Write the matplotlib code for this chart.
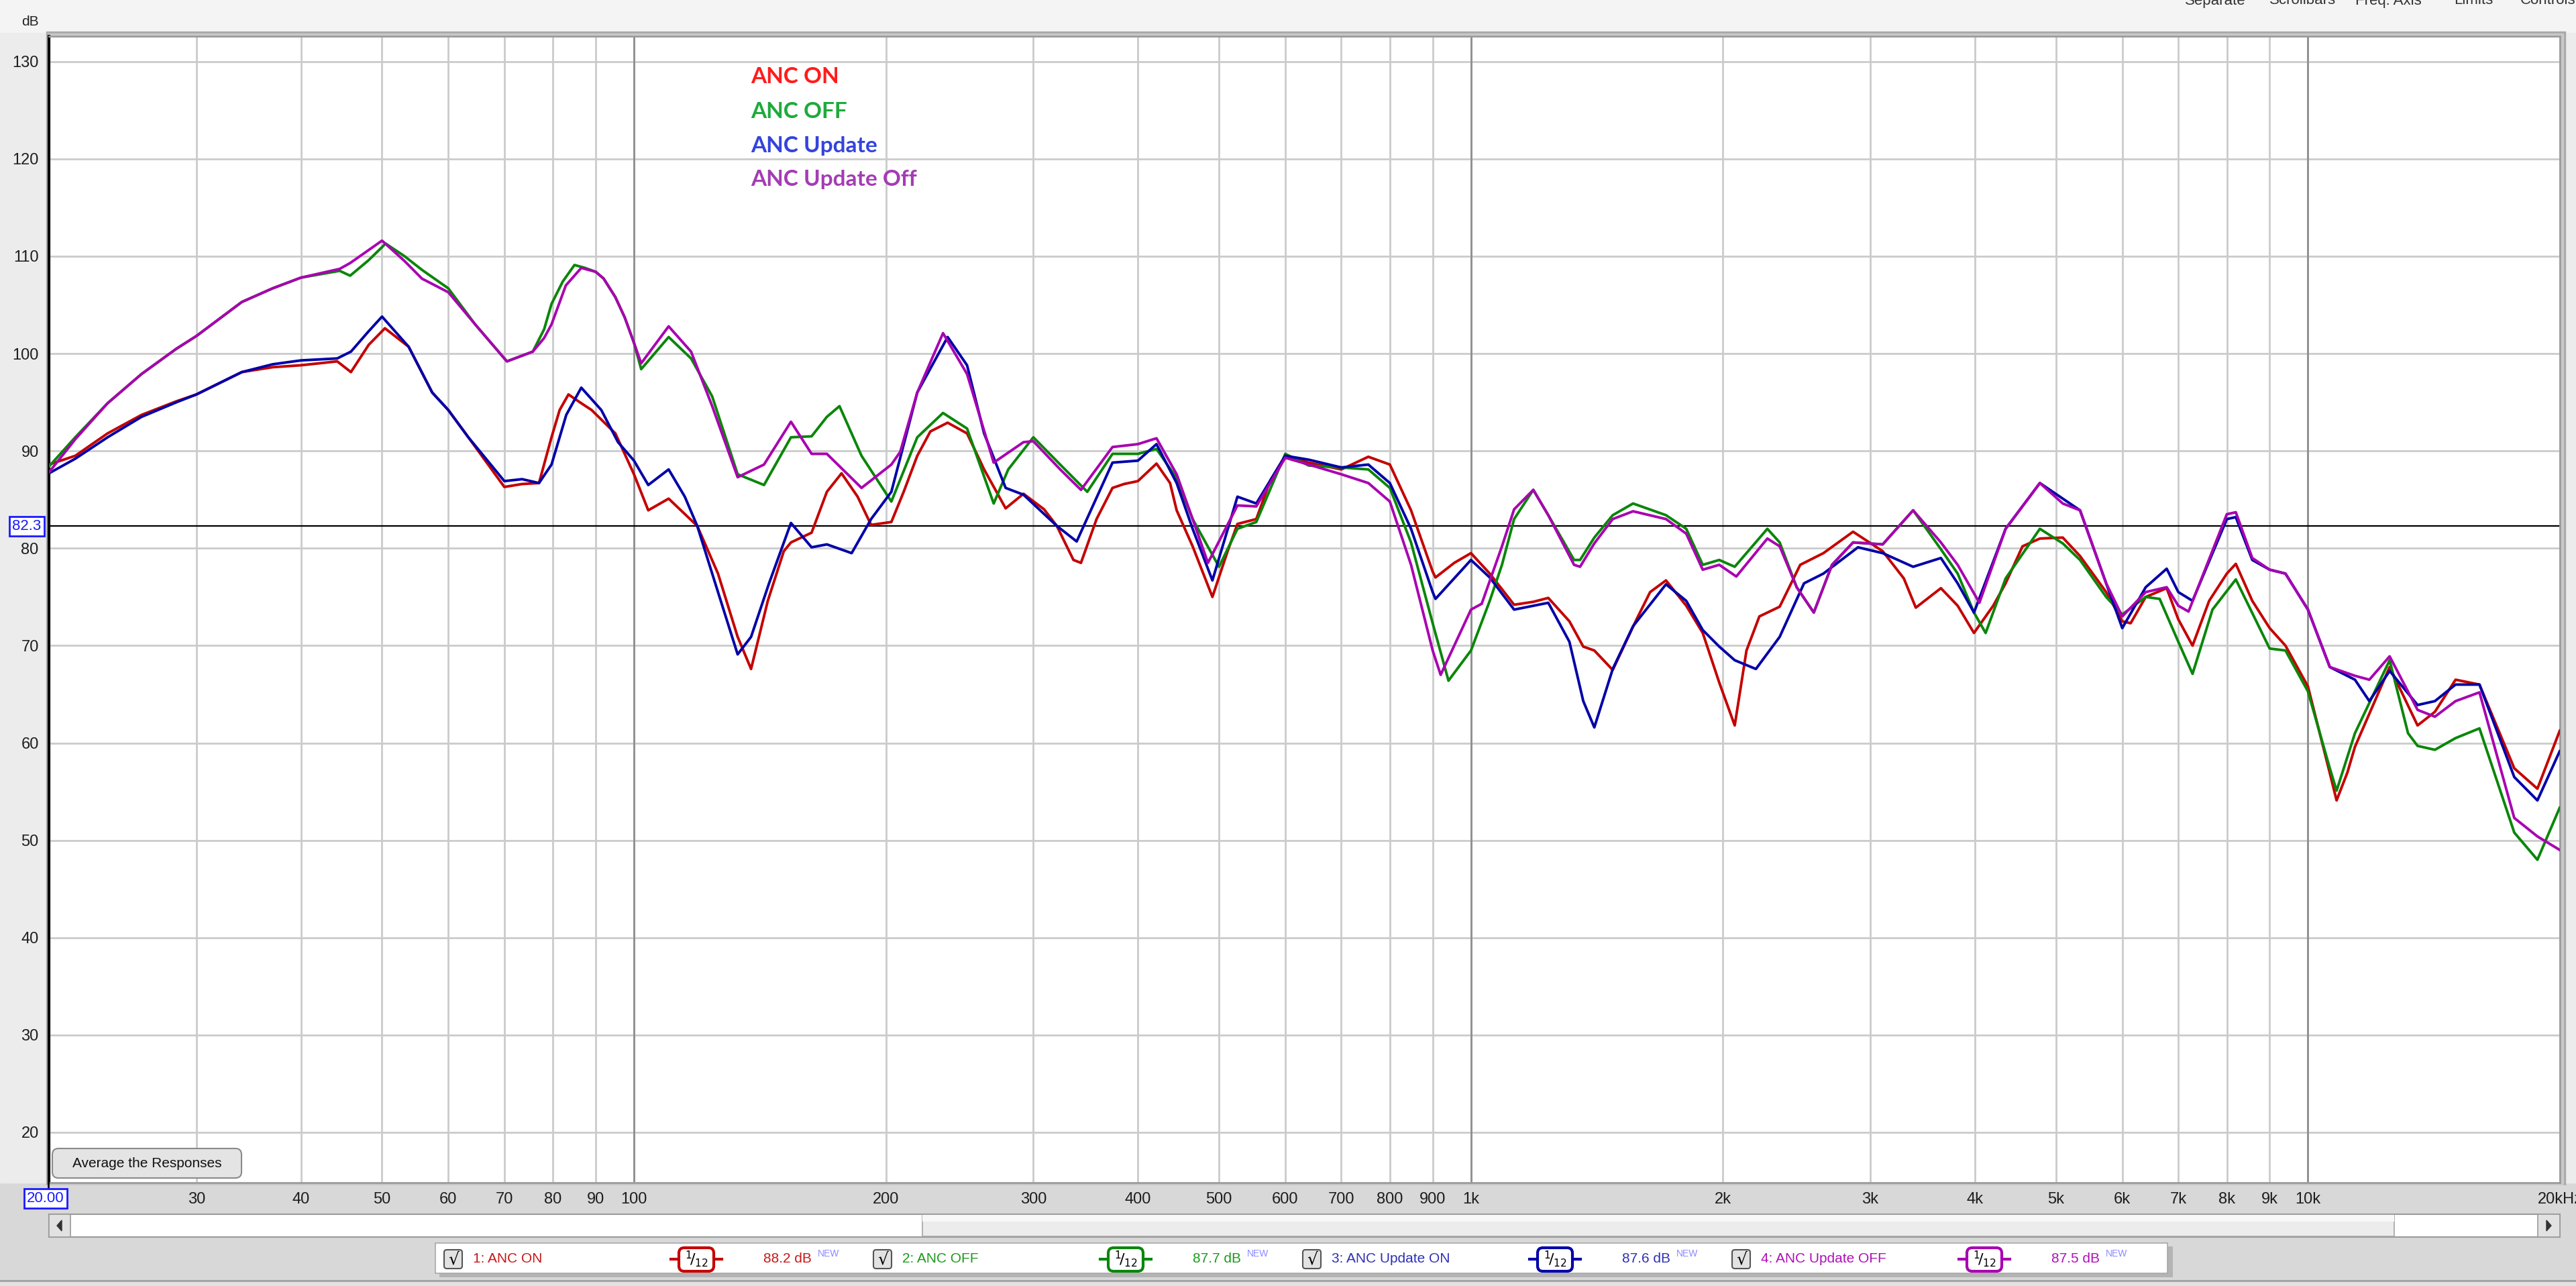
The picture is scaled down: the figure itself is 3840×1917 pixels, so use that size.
import matplotlib.pyplot as plt
from matplotlib.patches import Rectangle, FancyBboxPatch, Polygon
from matplotlib.ticker import NullLocator

plt.rcParams['font.family'] = ['Liberation Sans Narrow', 'Liberation Sans', 'DejaVu Sans']

# (frequency Hz, level dB), 1/12 octave smoothed
anc_on = [(20, 88.6), (21.5, 89.5), (23.5, 91.8), (25.8, 93.7), (28.4, 95.1), (30, 95.8), (34, 98.1),
          (37, 98.6), (40, 98.8), (44.2, 99.2), (45.9, 98.1),
          (48.2, 100.9), (50.4, 102.6), (53.8, 100.7), (57.4, 96.0), (60, 94.2), (63.4, 91.4),
          (70, 86.3), (73.5, 86.6), (77, 86.7), (79.7, 91.4), (81.5, 94.2), (83.5, 95.8), (86.5, 94.9),
          (89, 94.2), (95, 91.8), (100, 87.6), (104, 83.9), (110, 85.1), (119, 82.3), (126, 77.4),
          (133, 70.9), (138, 67.6), (144.5, 74.6), (151, 79.7), (154, 80.6), (163, 81.6), (170, 85.8),
          (177, 87.7), (185, 85.3), (192, 82.4), (203, 82.7), (210, 85.8), (218, 89.5), (226, 92.0),
          (237, 92.9), (250, 91.8), (262, 88.1), (278, 84.1), (292, 85.6), (309, 84.0), (320, 82.3),
          (335, 78.8), (342, 78.5), (357, 83.0), (373, 86.2), (385, 86.6), (400, 86.9), (421, 88.7),
          (437, 86.7), (445, 83.9), (465, 80.2), (491, 75.0), (512, 79.7), (526, 82.5), (554, 83.0),
          (576, 87.0), (600, 89.5), (640, 88.8), (700, 88.1), (754, 89.4), (800, 88.6), (848, 83.9),
          (900, 77.6), (907, 77.0), (955, 78.5), (1000, 79.5), (1053, 77.4), (1126, 74.2),
          (1187, 74.5), (1237, 74.9), (1311, 72.5), (1362, 69.9), (1404, 69.5), (1477, 67.5),
          (1577, 72.7), (1637, 75.5), (1710, 76.7), (1808, 74.1), (1892, 71.3), (1980, 66.2),
          (2066, 61.8), (2134, 69.5), (2211, 73.0), (2338, 74.0), (2474, 78.3), (2637, 79.5),
          (2861, 81.7), (3104, 79.7), (3290, 76.9), (3400, 73.9), (3643, 75.9), (3815, 74.1),
          (3990, 71.3), (4207, 74.1), (4353, 76.4), (4560, 80.2), (4783, 81.0), (5094, 81.1),
          (5342, 79.2), (5740, 75.5), (6000, 72.5), (6140, 72.3), (6400, 75.0), (6780, 75.9),
          (7000, 72.7), (7280, 70.0), (7620, 74.6), (8000, 77.4), (8200, 78.4), (8580, 74.6),
          (9000, 71.8), (9400, 70.0), (10000, 65.8), (10620, 56.9), (10820, 54.1), (11150, 57.0),
          (11380, 59.6), (12520, 67.8), (13520, 61.8), (14180, 63.2), (15010, 66.5), (16030, 66.0),
          (17640, 57.4), (18800, 55.3), (20000, 61.3)]

anc_off = [(20, 88.4), (21.5, 91.4), (23.5, 94.9), (25.8, 97.9), (28.4, 100.5), (30, 101.8), (34, 105.3),
           (37, 106.7), (40, 107.8), (44.5, 108.5), (45.8, 108.0), (48.2, 109.6), (50.5, 111.3),
           (53.2, 110.0), (55.8, 108.6), (60, 106.7), (64.6, 103.0), (70, 99.5), (70.5, 99.2),
           (75.7, 100.2), (78.1, 102.5), (79.7, 105.1), (82.2, 107.4), (84.9, 109.1), (87.4, 108.8),
           (90, 108.4), (92, 107.7), (95, 105.8), (97.5, 103.7), (100, 101.1), (102, 98.4), (110, 101.7),
           (117, 99.5), (124, 95.6), (133, 87.6), (143, 86.5), (154, 91.4), (163, 91.5), (170, 93.5),
           (176, 94.6), (187, 89.5), (203, 84.8), (218, 91.4), (234, 93.9), (250, 92.3), (269, 84.6),
           (280, 88.1), (300, 91.4), (323, 88.6), (348, 85.8), (373, 89.7), (400, 89.7), (421, 90.2),
           (445, 87.2), (465, 83.0), (500, 78.1), (526, 82.0), (554, 82.7), (600, 89.7), (640, 88.5),
           (700, 88.3), (754, 88.1), (800, 86.2), (848, 80.6), (900, 72.3), (940, 66.4), (1000, 69.5),
           (1053, 74.6), (1089, 78.3), (1126, 83.0), (1187, 86.0), (1237, 83.4), (1328, 78.8),
           (1350, 78.8), (1404, 81.1), (1477, 83.4), (1562, 84.6), (1710, 83.4), (1808, 82.0),
           (1892, 78.3), (1980, 78.8), (2066, 78.1), (2260, 82.0), (2338, 80.6), (2450, 76.0),
           (2568, 73.4), (2700, 78.3), (2861, 80.6), (3104, 80.4), (3375, 83.9), (3643, 79.9),
           (3815, 77.4), (3990, 73.4), (4120, 71.3), (4353, 76.9), (4783, 82.0), (5094, 80.5),
           (5342, 78.8), (5740, 75.0), (6000, 73.2), (6400, 75.0), (6650, 74.8), (7000, 70.4),
           (7280, 67.1), (7690, 73.7), (8200, 76.8), (9000, 69.7), (9400, 69.5), (10000, 65.3),
           (10620, 57.4), (10820, 55.1), (11380, 61.0), (12520, 68.5), (13170, 61.0), (13520, 59.7),
           (14180, 59.3), (15010, 60.5), (16030, 61.5), (17640, 50.8), (18800, 48.0), (20000, 53.4)]

update_on = [(20, 87.7), (21.5, 89.2), (23.5, 91.4), (25.8, 93.5), (28.4, 95.0), (30, 95.8), (34, 98.1),
             (37, 98.9), (40, 99.3), (44.2, 99.5), (45.9, 100.2), (48.2, 102.3), (50, 103.8),
             (53.8, 100.7), (57.4, 96.0), (60, 94.2), (63.4, 91.4), (70, 86.9), (73.5, 87.1), (77, 86.7),
             (79.7, 88.6), (83, 93.7), (86.5, 96.5), (91.4, 94.2), (95.7, 90.9), (100, 89.0), (104, 86.5),
             (110, 88.1), (115, 85.3), (119, 82.3), (126, 75.5), (133, 69.1), (138, 70.9), (145, 76.4),
             (154, 82.6), (163, 80.1), (170, 80.4), (182, 79.5), (192, 83.0), (203, 85.8), (218, 96.0),
             (237, 101.7), (250, 98.8), (262, 91.8), (278, 86.2), (292, 85.5), (320, 82.3), (338, 80.7),
             (373, 88.8), (400, 89.0), (421, 90.7), (445, 86.7), (465, 82.0), (491, 76.7), (526, 85.3),
             (554, 84.6), (600, 89.5), (640, 89.1), (700, 88.3), (754, 88.6), (800, 86.7), (848, 82.0),
             (900, 75.5), (907, 74.8), (1000, 78.8), (1053, 77.0), (1126, 73.7), (1237, 74.4),
             (1311, 70.4), (1362, 64.3), (1404, 61.6), (1477, 67.6), (1562, 72.0), (1710, 76.3),
             (1808, 74.6), (1892, 71.6), (1980, 69.9), (2066, 68.5), (2190, 67.6), (2338, 70.9),
             (2500, 76.4), (2637, 77.4), (2900, 80.1), (3104, 79.5), (3375, 78.1), (3643, 79.0),
             (3815, 76.4), (3990, 73.4), (4353, 82.0), (4783, 86.7), (5094, 85.1), (5342, 83.9),
             (5740, 76.4), (6000, 71.8), (6400, 76.0), (6780, 77.9), (7000, 75.5), (7280, 74.6),
             (8000, 83.0), (8200, 83.2), (8580, 78.8), (9000, 77.8), (9400, 77.4), (10000, 73.7),
             (10620, 67.8), (11380, 66.5), (11840, 64.3), (12520, 67.4), (13520, 63.9), (14180, 64.3),
             (15010, 66.0), (16030, 66.0), (17640, 56.5), (18800, 54.1), (20000, 59.2)]

update_off = [(20, 87.8), (21.5, 91.2), (23.5, 94.9), (25.8, 97.9), (28.4, 100.5), (30, 101.8), (34, 105.3),
              (37, 106.7), (40, 107.8), (44.5, 108.7), (45.8, 109.3), (50, 111.6), (53.2, 109.5),
              (55.8, 107.7), (60, 106.3), (64.6, 103.0), (70, 99.5), (70.5, 99.2), (75.7, 100.2),
              (78.1, 101.6), (79.7, 103.0), (82.9, 107.0), (86.5, 108.8), (90, 108.4), (92, 107.7),
              (95, 105.8), (97.5, 103.7), (100, 101.1), (102, 99.0), (110, 102.8), (117, 100.2),
              (124, 94.6), (133, 87.3), (143, 88.6), (154, 93.0), (163, 89.7), (170, 89.7), (187, 86.2),
              (203, 88.6), (208, 89.9), (218, 96.0), (234, 102.1), (250, 97.9), (269, 88.8), (292, 90.9),
              (300, 91.0), (323, 88.1), (342, 86.0), (373, 90.4), (400, 90.7), (421, 91.3), (445, 87.6),
              (465, 83.0), (485, 78.5), (526, 84.4), (554, 84.3), (600, 89.3), (640, 88.6), (700, 87.6),
              (754, 86.7), (800, 84.8), (848, 78.3), (900, 69.5), (920, 67.0), (1000, 73.7),
              (1030, 74.3), (1089, 80.2), (1126, 84.0), (1187, 86.0), (1237, 83.4), (1328, 78.3),
              (1350, 78.1), (1404, 80.5), (1477, 83.0), (1562, 83.8), (1710, 83.0), (1808, 81.5),
              (1892, 77.8), (1980, 78.3), (2075, 77.1), (2260, 81.0), (2338, 80.2), (2450, 76.0),
              (2568, 73.4), (2700, 78.3), (2861, 80.6), (3104, 80.4), (3375, 83.9), (3643, 80.6),
              (3815, 78.3), (4050, 74.4), (4353, 82.0), (4783, 86.7), (5094, 84.6), (5342, 83.9),
              (5740, 76.4), (6000, 73.0), (6400, 75.5), (6780, 76.0), (7000, 74.1), (7200, 73.5),
              (8000, 83.5), (8200, 83.7), (8580, 79.0), (9000, 77.8), (9400, 77.4), (10000, 73.7),
              (10620, 67.8), (11380, 66.9), (11840, 66.5), (12520, 68.9), (13520, 63.4), (14180, 62.7),
              (15010, 64.3), (16030, 65.2), (17640, 52.3), (18800, 50.4), (20000, 49.0)]

series_names = ['1: ANC ON', '2: ANC OFF', '3: ANC Update ON', '4: ANC Update OFF']
series_levels = ['88.2 dB', '87.7 dB', '87.6 dB', '87.5 dB']
series_colors = ['#c40000', '#0a860a', '#0000a8', '#a800b0']
label_colors = ['#c81818', '#1e9a1e', '#3030b8', '#b010b8']
note_texts = ['ANC ON', 'ANC OFF', 'ANC Update', 'ANC Update Off']
note_colors = ['#ff1c1c', '#1eaa3c', '#3344dd', '#a43cb4']

x_ticks = [30, 40, 50, 60, 70, 80, 90, 100, 200, 300, 400, 500, 600, 700, 800, 900,
           1000, 2000, 3000, 4000, 5000, 6000, 7000, 8000, 9000, 10000, 20000]
x_labels = ['30', '40', '50', '60', '70', '80', '90', '100', '200', '300', '400', '500', '600',
            '700', '800', '900', '1k', '2k', '3k', '4k', '5k', '6k', '7k', '8k', '9k', '10k', '20kHz']
y_ticks = list(range(20, 131, 10))
ref_level = 82.3

W, H = 3840, 1917
L, R, T, B = 73, 3816, 54, 1763

fig = plt.figure(figsize=(W / 100, H / 100), dpi=100)
fig.patch.set_facecolor('#d8d8d8')

# window chrome behind the graph
bg = fig.add_axes([0, 0, 1, 1], zorder=0)
bg.set_xlim(0, W)
bg.set_ylim(H, 0)
bg.axis('off')
bg.add_patch(Rectangle((0, 0), W, B, color='#ececec'))
bg.add_patch(Rectangle((0, 0), W, 48, color='#f4f4f4'))
bg.add_patch(Rectangle((L - 4, T - 7), R - L + 12, B - T + 12, color='#a9a9a9'))
bg.add_patch(Rectangle((L - 2, T - 4), R - L + 7, B - T + 7, color='#c9c9c9'))
bg.add_patch(Rectangle((0, B + 4), W, H - B, color='#d8d8d8'))

ax = fig.add_axes([L / W, 1 - B / H, (R - L) / W, (B - T) / H], zorder=1)
ax.set_xscale('log')
ax.set_xlim(20, 20000)
ax.set_ylim(14.83, 132.6)
ax.set_facecolor('white')
ax.xaxis.set_minor_locator(NullLocator())
ax.set_xticks(x_ticks, x_labels)
ax.set_yticks(y_ticks, [str(v) for v in y_ticks])
ax.tick_params(axis='both', length=0, labelsize=17, labelcolor='#1e1e1e')
ax.tick_params(axis='x', pad=10)
ax.tick_params(axis='y', pad=11)
ax.grid(True, color='#cbcbcb', lw=2)
ax.set_axisbelow(True)
for f in (100, 1000, 10000):
    ax.axvline(f, color='#8e8e8e', lw=2, zorder=1)
for side in ('top', 'right', 'bottom'):
    ax.spines[side].set_color('#9c9c9c')
    ax.spines[side].set_linewidth(2)
ax.spines['left'].set_color('black')
ax.spines['left'].set_linewidth(3)

ax.axhline(ref_level, color='black', lw=1.6, zorder=2)

for data, c in zip([anc_on, anc_off, update_on, update_off], series_colors):
    fr, lv = zip(*data)
    ax.plot(fr, lv, color=c, lw=2.8, solid_joinstyle='round', solid_capstyle='round', zorder=3)

# overlay in pixel coordinates
ui = fig.add_axes([0, 0, 1, 1], zorder=3)
ui.set_xlim(0, W)
ui.set_ylim(H, 0)
ui.patch.set_alpha(0)
ui.axis('off')

for i, (txt, c) in enumerate(zip(note_texts, note_colors)):
    ui.text(1119, 115 + 51 * i, txt, color=c, fontsize=24, fontweight='bold',
            family=['Lato', 'DejaVu Sans'], ha='left', va='center')

ui.text(45, 33, 'dB', fontsize=15, color='#222', ha='center', va='center')
for x0, word in [(3257, 'Separate'), (3383, 'Scrollbars'), (3511, 'Freq. Axis'),
                 (3658, 'Limits'), (3757, 'Controls')]:
    ui.text(x0, 1, word, fontsize=16, color='#333', ha='left', va='center')

box = dict(boxstyle='square,pad=0.18', fc='white', ec='#1a1aff', lw=2)
ui.text(40, 785, '82.3', fontsize=16, color='#1a1aff', ha='center', va='center', bbox=box)
ui.plot([L - 1, L - 1], [B, B + 10], color='black', lw=2)
ui.text(68, 1787, '20.00', fontsize=16, color='#1a1aff', ha='center', va='center', bbox=box)

ui.add_patch(FancyBboxPatch((78, 1712), 282, 44, boxstyle='round,pad=0,rounding_size=9',
                            fc='#e4e4e4', ec='#8a8a8a', lw=1.5))
ui.text(219, 1735, 'Average the Responses', fontsize=15, color='#111', ha='center', va='center')

# scrollbar
ui.add_patch(Rectangle((L, 1810), R - L, 34, fc='white', ec='#9a9a9a', lw=1.5))
ui.add_patch(Rectangle((1375, 1811), 2194, 32, fc='#ececec', ec='#a4a4a4', lw=1.2))
ui.add_patch(Rectangle((1375, 1811), 2194, 10, fc='#f8f8f8', lw=0))
ui.add_patch(Rectangle((L, 1810), 32, 34, fc='#e2e2e2', ec='#9a9a9a', lw=1.2))
ui.add_patch(Rectangle((R - 33, 1810), 33, 34, fc='#e2e2e2', ec='#9a9a9a', lw=1.2))
ui.add_patch(Polygon([(L + 19, 1819), (L + 19, 1835), (L + 12, 1827)], color='#333'))
ui.add_patch(Polygon([(R - 20, 1819), (R - 20, 1835), (R - 13, 1827)], color='#333'))

# legend panel
ui.add_patch(Rectangle((655, 1858), 2584, 46, fc='#b4b4b4', lw=0))
ui.add_patch(Rectangle((649, 1853), 2582, 45, fc='white', ec='#a8a8a8', lw=1.2))
for i in range(4):
    dx = 640 * i
    yc = 1877
    ui.add_patch(FancyBboxPatch((662 + dx, 1863), 27, 28, boxstyle='round,pad=0,rounding_size=4',
                                fc='#e2e2e2', ec='#555', lw=1.5))
    ui.text(676 + dx, yc, '\u221a', fontsize=18, color='black', ha='center', va='center',
            family='DejaVu Sans')
    ui.text(705 + dx, yc, series_names[i], fontsize=15, color=label_colors[i], ha='left', va='center')
    ui.plot([1000 + dx, 1076 + dx], [yc, yc], color=series_colors[i], lw=3)
    ui.add_patch(FancyBboxPatch((1012 + dx, 1860), 52, 35, boxstyle='round,pad=0,rounding_size=8',
                                fc='white', ec=series_colors[i], lw=3, zorder=3))
    ui.text(1038 + dx, yc, r'$^{1}\!/_{12}$', fontsize=16, color='black', ha='center', va='center',
            zorder=4)
    ui.text(1138 + dx, yc, series_levels[i], fontsize=15, color=label_colors[i], ha='left', va='center')
    ui.text(1219 + dx, 1869, 'NEW', fontsize=10, color='#8a8aff', ha='left', va='center')

ui.plot([0, W], [1909, 1909], color='#a0a0a0', lw=2)
ui.add_patch(Rectangle((0, 1910), W, 7, fc='#e2e2e2', lw=0))

fig.savefig('out.png', dpi=100, facecolor=fig.get_facecolor())
